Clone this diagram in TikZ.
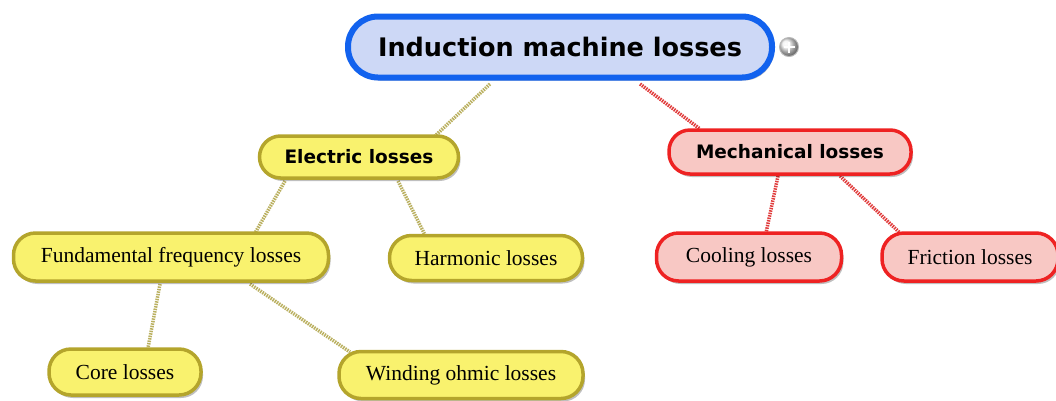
\documentclass[tikz,border=0pt]{standalone}
\usepackage{fontspec}
\setmainfont{Liberation Serif}
\newfontfamily\boldsans{DejaVu Sans}
\usetikzlibrary{shadows}
\definecolor{rootfill}{HTML}{CDD8F6}
\definecolor{rootdraw}{HTML}{1262EE}
\definecolor{yfill}{HTML}{F9F26E}
\definecolor{ydraw}{HTML}{B4A52C}
\definecolor{rfill}{HTML}{F8C8C4}
\definecolor{rdraw}{HTML}{EE2222}
\definecolor{yline}{HTML}{BAB060}
\definecolor{rline}{HTML}{E03C3C}
\tikzset{
  base/.style={rectangle, inner sep=0pt, drop shadow={shadow xshift=2pt, shadow yshift=-3pt, opacity=0.25, fill=black}},
  rootbox/.style={base, fill=rootfill, draw=rootdraw, line width=6pt, rounded corners=30pt, minimum width=424pt, minimum height=61pt, font=\boldsans\bfseries\fontsize{25.5}{30}\selectfont},
  ybold/.style={base, fill=yfill, draw=ydraw, line width=3.5pt, rounded corners=21pt, font=\boldsans\bfseries\fontsize{18.5}{22}\selectfont},
  rbold/.style={base, fill=rfill, draw=rdraw, line width=3.5pt, rounded corners=21pt, font=\boldsans\bfseries\fontsize{18.5}{22}\selectfont},
  yleaf/.style={base, fill=yfill, draw=ydraw, line width=3.5pt, rounded corners=22pt, font=\fontsize{21.5}{25}\selectfont},
  rleaf/.style={base, fill=rfill, draw=rdraw, line width=3.5pt, rounded corners=22pt, font=\fontsize{21.5}{25}\selectfont},
  ylink/.style={draw=yline, line width=3.5pt, dash pattern=on 1.5pt off 1pt},
  rlink/.style={draw=rline, line width=3.5pt, dash pattern=on 1.5pt off 1pt},
}
\begin{document}
\begin{tikzpicture}[x=1pt,y=-1pt]
\useasboundingbox (0,0) rectangle (1056,400);
% connectors first
\coordinate (r1) at (490,84);
\coordinate (r2) at (640,84);
\coordinate (e0) at (435,136);
\coordinate (m0) at (700,129);
\coordinate (e1) at (285,181);
\coordinate (e2) at (398,181);
\coordinate (f0) at (255,233);
\coordinate (h0) at (425,235);
\coordinate (f1) at (160,284);
\coordinate (f2) at (250,284);
\coordinate (c0) at (148,348);
\coordinate (w0) at (350,352);
\coordinate (m1) at (778,176);
\coordinate (m2) at (840,176);
\coordinate (co0) at (766,233);
\coordinate (fr0) at (900,233);
\draw[ylink] (r1) -- (e0);
\draw[rlink] (r2) -- (m0);
\draw[ylink] (e1) -- (f0);
\draw[ylink] (e2) -- (h0);
\draw[ylink] (f1) -- (c0);
\draw[ylink] (f2) -- (w0);
\draw[rlink] (m1) -- (co0);
\draw[rlink] (m2) -- (fr0);
% nodes
\node[rootbox] (root) at (560,47) {Induction machine losses};
\node[circle, minimum size=19pt, inner sep=0pt, ball color=gray!12, draw=gray!55, line width=1pt] (plus) at (789,47) {};
\draw[white, line width=1.8pt] ([xshift=-5.5pt]plus.center) -- ([xshift=5.5pt]plus.center) ([yshift=-5.5pt]plus.center) -- ([yshift=5.5pt]plus.center);
\node[ybold, minimum width=199pt, minimum height=42pt] (elec) at (359,157) {Electric losses};
\node[rbold, minimum width=242pt, minimum height=44pt] (mech) at (790,152) {Mechanical losses};
\node[yleaf, minimum width=315pt, minimum height=48pt] (fund) at (171,257) {Fundamental frequency losses};
\node[yleaf, minimum width=193pt, minimum height=45pt] (harm) at (486,258) {Harmonic losses};
\node[rleaf, minimum width=185pt, minimum height=48pt] (cool) at (749,257) {Cooling losses};
\node[rleaf, minimum width=176pt, minimum height=48pt] (fric) at (970,257) {Friction losses};
\node[yleaf, minimum width=152pt, minimum height=46pt] (core) at (125,372) {Core losses};
\node[yleaf, minimum width=244pt, minimum height=47pt] (wind) at (461,375) {Winding ohmic losses};
\end{tikzpicture}
\end{document}
